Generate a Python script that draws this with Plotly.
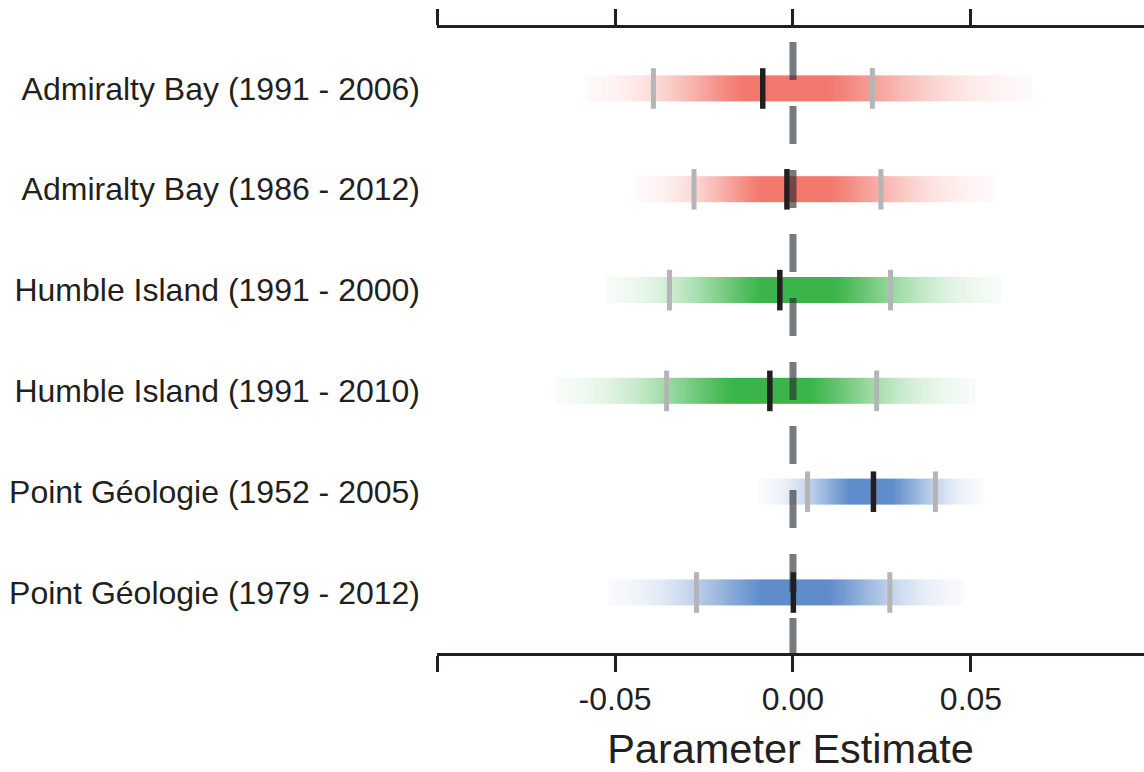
import numpy as np
import plotly.graph_objects as go

# ---- data ----
labels = ["Admiralty Bay (1991 - 2006)", "Admiralty Bay (1986 - 2012)",
          "Humble Island (1991 - 2000)", "Humble Island (1991 - 2010)",
          "Point Géologie (1952 - 2005)", "Point Géologie (1979 - 2012)"]
estimate = [-0.0085, -0.0017, -0.0037, -0.0065, 0.0226, 0.0001]
ci_low = [-0.0392, -0.0278, -0.0347, -0.0355, 0.0041, -0.0271]
ci_high = [0.0223, 0.0247, 0.0274, 0.0235, 0.0400, 0.0272]
# extent and mode of the shaded distribution band
band_low = [-0.0579, -0.0438, -0.0522, -0.0663, -0.0093, -0.0514]
band_high = [0.0666, 0.0562, 0.0581, 0.0506, 0.0534, 0.0478]
band_peak = [-0.0040, -0.0010, 0.0006, -0.0060, 0.0216, 0.0010]
colors = ["#F2776D", "#F2776D", "#3BB54A", "#3BB54A", "#5F8DCB", "#5F8DCB"]

x_ticks = [-0.1, -0.05, 0.0, 0.05]
x_ticktext = ["", "-0.05", "0.00", "0.05"]

rows = list(range(len(labels)))
INK = "#231F20"
FONT = "Liberation Sans, Arial, Helvetica, sans-serif"

fig = go.Figure()

# gradient bands as two-row heatmaps (row centres +-0.065 -> edges +-0.13)
for r in rows:
    lo, hi, pk = band_low[r], band_high[r], band_peak[r]
    xs = np.linspace(lo, hi, 120)
    s_left = (pk - lo) / 2.6
    s_right = (hi - pk) / 2.6
    d = xs - pk
    s = np.where(d < 0, s_left, s_right)
    op = np.minimum(1.0, 1.12 * np.exp(-0.5 * (d / s) ** 2))
    fig.add_trace(go.Heatmap(
        x=xs, y=[r - 0.065, r + 0.065], z=[op, op],
        zmin=0, zmax=1, colorscale=[[0, "white"], [1, colors[r]]],
        zsmooth="best", showscale=False, hoverinfo="skip"))

# dashed zero line
fig.add_trace(go.Scatter(
    x=[0, 0], y=[-0.46, 5.62], mode="lines",
    line=dict(color="rgba(35,40,45,0.62)", width=7, dash="38px,26px"),
    hoverinfo="skip", showlegend=False))

# CI bounds (gray) and estimates (black)
fig.add_trace(go.Scatter(
    x=ci_low + ci_high, y=rows + rows, mode="markers",
    marker=dict(symbol="line-ns", size=29, line=dict(color="#B3B5B6", width=5)),
    hoverinfo="skip", showlegend=False))
fig.add_trace(go.Scatter(
    x=estimate, y=rows, mode="markers",
    marker=dict(symbol="line-ns", size=29, line=dict(color=INK, width=5.5)),
    hoverinfo="skip", showlegend=False))

fig.update_layout(
    width=1144, height=772,
    margin=dict(l=437, r=0, t=28, b=119),
    paper_bgcolor="white", plot_bgcolor="white",
    showlegend=False,
    font=dict(family=FONT, color=INK, size=32),
    xaxis=dict(
        range=[-0.1, 0.0986], showgrid=False, zeroline=False,
        showline=True, linewidth=3, linecolor=INK, mirror="ticks",
        ticks="outside", ticklen=16, tickwidth=3, tickcolor=INK,
        tickvals=x_ticks, ticktext=x_ticktext,
        tickfont=dict(size=32, family=FONT, color=INK),
        title=dict(text="Parameter Estimate", font=dict(size=41.5, family=FONT, color=INK), standoff=20),
    ),
    yaxis=dict(
        range=[5.6, -0.6], showgrid=False, zeroline=False, showline=False,
        tickvals=rows, ticktext=labels, ticks="",
        tickfont=dict(size=32, family=FONT, color=INK),
        ticklabelstandoff=16,
    ),
)

fig.write_html("out.html")
